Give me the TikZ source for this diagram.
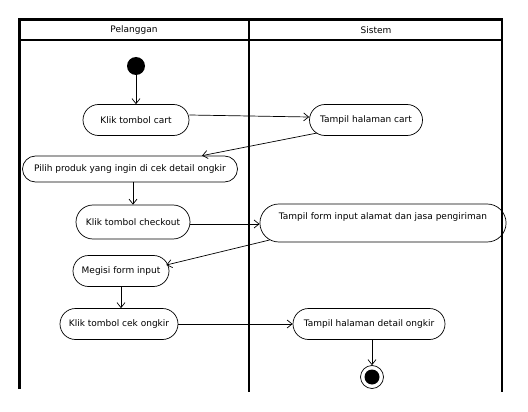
\documentclass[tikz,border=0pt]{standalone}
\usepackage{fontspec}
\setmainfont{DejaVu Sans}
\usetikzlibrary{shapes.misc,arrows.meta,calc}
\tikzset{
  act/.style={draw, rounded rectangle, line width=0.7pt, inner xsep=0pt, inner ysep=0pt,
    font=\fontsize{9}{10}\selectfont, minimum height=31pt},
  flow/.style={draw, line width=0.7pt, -{Straight Barb[length=5pt,width=8pt,line width=0.7pt]}},
  lane/.style={line width=2.2pt},
  hdr/.style={font=\fontsize{9}{10}\selectfont}
}
\begin{document}
\begin{tikzpicture}[x=1pt,y=-1pt]
\useasboundingbox (0,0) rectangle (528,412);
% swimlanes
\draw[lane] (19.5,389) -- (19.5,19.5) -- (502,19.5) -- (502,392);
\draw[lane] (249,19.5) -- (249,392);
\draw[line width=1.6pt] (19.5,40) -- (502,40);
\node[hdr] (hp) at (134,30) {Pelanggan};
\node[hdr] (hs) at (376,30) {Sistem};
% nodes
\node[circle, fill=black, inner sep=0pt, minimum size=18pt] (start) at (136,66) {};
\node[act, minimum width=106pt] (cart) at (136,120) {Klik tombol cart};
\node[act, minimum width=113pt] (tcart) at (366,120) {Tampil halaman cart};
\node[act, minimum width=215pt, minimum height=26pt] (pilih) at (130,169) {Pilih produk yang ingin di cek detail ongkir};
\node[act, minimum width=114pt, minimum height=34pt] (ck) at (133,222) {Klik tombol checkout};
\node[act, minimum width=232pt, minimum height=38pt, text height=15pt, text depth=23pt] (form) at (383,223) {Tampil form input alamat dan jasa pengiriman};
\node[act, minimum width=96pt] (meg) at (121,271) {Megisi form input};
\node[act, minimum width=118pt] (cek) at (119,324) {Klik tombol cek ongkir};
\node[act, minimum width=152pt] (det) at (369,324) {Tampil halaman detail ongkir};
\node[circle, draw, line width=0.7pt, inner sep=0pt, minimum size=23pt] (end) at (372,377) {};
\node[circle, fill=black, inner sep=0pt, minimum size=15pt] (endin) at (end.center) {};
% flows
\draw[flow] (start) -- (cart);
\draw[flow] ([yshift=5pt]cart.east) -- ([yshift=3pt]tcart.west);
\draw[flow] ($(tcart.west)+(8,13)$) -- ($(pilih.north)+(72,0)$);
\draw[flow] (pilih.south -| ck.north) -- (ck.north);
\draw[flow] ([yshift=-2pt]ck.east) -- ([yshift=-1pt]form.west);
\draw[flow] ($(form.west)+(10,17)$) -- ($(meg.east)+(-3,-6)$);
\draw[flow] (meg.south) -- (meg.south |- cek.north);
\draw[flow] (cek.east) -- (det.west);
\draw[flow] (det.south -| end.north) -- (end.north);
\end{tikzpicture}
\end{document}
